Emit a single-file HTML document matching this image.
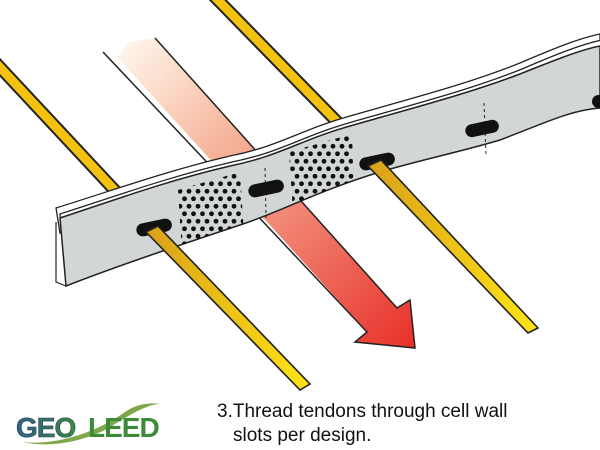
<!DOCTYPE html>
<html><head><meta charset="utf-8"><style>
html,body{margin:0;padding:0;background:#fff;width:600px;height:450px;overflow:hidden}
svg{display:block}
</style></head><body>
<svg width="600" height="450" viewBox="0 0 600 450" xmlns="http://www.w3.org/2000/svg">
<defs>
<linearGradient id="ar" x1="0" y1="0" x2="1" y2="1" gradientUnits="objectBoundingBox">
<stop offset="0" stop-color="#fffaf0"/><stop offset="0.35" stop-color="#f6b49a"/><stop offset="1" stop-color="#e8302a"/></linearGradient>
<linearGradient id="yl" x1="0" y1="0" x2="1" y2="0"><stop offset="0" stop-color="#d9a01a"/><stop offset="1" stop-color="#ffe414"/></linearGradient>
<pattern id="dots" width="9" height="15" patternUnits="userSpaceOnUse"><circle cx="4.5" cy="3.75" r="2.4" fill="#111"/><circle cx="0" cy="11.25" r="2.4" fill="#111"/><circle cx="9" cy="11.25" r="2.4" fill="#111"/></pattern>
<linearGradient id="lg" x1="0" y1="0" x2="1" y2="0"><stop offset="0" stop-color="#2f5f8a"/><stop offset="1" stop-color="#3c8a3a"/></linearGradient>
<clipPath id="sc"><path d="M60,218 C120,198 170,180 230,166 C280,156 300,140 350,126 C420,106 470,93 520,74 C555,60 580,50 600,46 L600,108 C570,110 540,125 500,140 C460,152 420,160 380,172 C320,190 280,212 240,225 C180,245 120,265 66,286 Z"/></clipPath>
</defs>
<g stroke-linecap="butt">
<line x1="-5" y1="62" x2="135" y2="212" stroke="#222" stroke-width="13"/>
<line x1="-5" y1="62" x2="135" y2="212" stroke="#f2c20e" stroke-width="9"/>
<line x1="213" y1="-5" x2="350" y2="135" stroke="#222" stroke-width="13"/>
<line x1="213" y1="-5" x2="350" y2="135" stroke="#f2c20e" stroke-width="9"/>
</g>
<polygon points="128,42 155,38 397,308 410,300 415,348 355,342 367,332 118,58" fill="url(#ar)"/>
<polyline points="103,52 367,332 355,342 415,348 410,300 397,308 155,38" fill="none" stroke="#222" stroke-width="1.5"/>
<g fill="#fff" stroke="#222" stroke-width="1.3">
<path d="M56,210 C120,190 170,172 230,158 C280,148 300,132 350,118 C420,98 470,85 520,65 C555,50 580,40 600,36 L600,60 L60,235 Z" transform="translate(0,-2)"/>
<path d="M58,213 C120,193 170,175 230,161 C280,151 300,135 350,121 C420,101 470,88 520,68 C555,53 580,43 600,39 L600,60 L60,235 Z" transform="translate(2,1)"/>
</g>
<path d="M60,218 C120,198 170,180 230,166 C280,156 300,140 350,126 C420,106 470,93 520,74 C555,60 580,50 600,46 L600,108 C570,110 540,125 500,140 C460,152 420,160 380,172 C320,190 280,212 240,225 C180,245 120,265 66,286 Z" fill="#d3d6d6" stroke="#222" stroke-width="1.5"/>
<path d="M56,222 L56,282 L66,286" fill="none" stroke="#222" stroke-width="1.2"/>
<g clip-path="url(#sc)">
<polygon points="178,190 240,172 244,234 182,252" fill="url(#dots)"/>
<polygon points="289,152 352,134 354,198 293,212" fill="url(#dots)"/>
</g>
<g stroke="#222" stroke-width="1" stroke-dasharray="3,3">
<line x1="265" y1="168" x2="266" y2="218"/><line x1="484" y1="103" x2="486" y2="155"/>
</g>
<g fill="#111">
<rect x="136" y="221" width="36" height="13" rx="6.5" transform="rotate(-12 154 227)"/>
<rect x="248" y="182" width="36" height="13" rx="6.5" transform="rotate(-12 266 188)"/>
<rect x="359" y="155" width="36" height="13" rx="6.5" transform="rotate(-12 377 161)"/>
<rect x="465" y="122" width="34" height="13" rx="6.5" transform="rotate(-12 482 128)"/>
<rect x="592" y="95" width="20" height="13" rx="6.5"/>
</g>
<polygon points="146,232 158,226 310,384 300,390" fill="url(#yl)" stroke="#222" stroke-width="1.6"/>
<polygon points="368,166 381,160 538,328 528,333" fill="url(#yl)" stroke="#222" stroke-width="1.6"/>
<path d="M22,442 C60,446 100,430 125,412 C135,405 148,402 160,404 C146,404 125,418 105,430 C80,442 50,448 22,442 Z" fill="#7ea84a"/>
<text x="16" y="437" font-family="Liberation Sans, sans-serif" font-weight="bold" font-size="28" fill="url(#lg)" stroke="#1d3b5a" stroke-width="0.6" letter-spacing="-1">GEO</text>
<text x="88" y="437" font-family="Liberation Sans, sans-serif" font-weight="bold" font-size="28" fill="#3f8a38" letter-spacing="-1">LEED</text>
<text x="217" y="417" font-family="Liberation Sans, sans-serif" font-size="19" fill="#111">3.Thread tendons through cell wall</text>
<text x="233" y="441" font-family="Liberation Sans, sans-serif" font-size="19" fill="#111">slots per design.</text>
</svg>
</body></html>
